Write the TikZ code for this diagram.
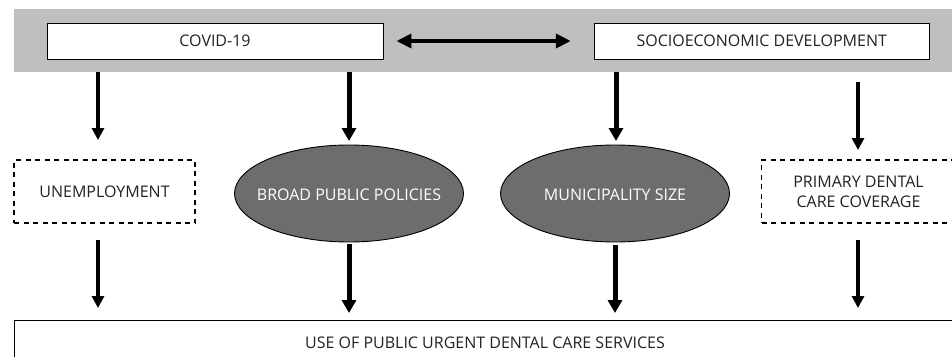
\documentclass[tikz,border=0pt]{standalone}
\usepackage{fontspec}
\setmainfont{Open Sans}
\usetikzlibrary{arrows.meta,shapes.geometric}
\definecolor{bandgray}{HTML}{BFBFBF}
\definecolor{ovalgray}{HTML}{6D6D6D}
\definecolor{inktext}{HTML}{222222}

\begin{document}
\begin{tikzpicture}[x=1pt,y=-1pt,
  lbl/.style={font=\fontsize{16}{20}\selectfont, text=inktext},
  bandbar/.style={fill=bandgray, draw=none, inner sep=0pt},
  topbox/.style={lbl, draw, fill=white, line width=0.9pt, minimum width=336pt, minimum height=36pt, inner sep=0pt},
  dbox/.style={lbl, draw, dash pattern=on 5pt off 4.5pt, line width=1.1pt, align=center, inner sep=0pt},
  oval/.style={ellipse, draw, line width=0.9pt, fill=ovalgray, minimum width=229pt, minimum height=97pt, inner sep=0pt},
  ovaltext/.style={lbl, text=white, inner sep=0pt},
  outbox/.style={lbl, draw, line width=0.9pt, fill=white, inner sep=0pt},
  arrthin/.style={line width=3.4pt, -{Triangle[width=12pt,length=12pt]}},
  arrthick/.style={line width=5pt, -{Triangle[width=14pt,length=13pt]}},
  arrboth/.style={line width=4.5pt, {Triangle[width=14pt,length=15pt]}-{Triangle[width=14pt,length=15pt]}}
]
\clip (0,0) rectangle (952,356);
\fill[white] (0,0) rectangle (952,356);

% grey band behind the two drivers
\node[bandbar, minimum width=946pt, minimum height=63pt] (band) at (487,40.5) {};

% drivers
\node[topbox] (covid) at (215,41) {COVID-19};
\node[topbox, minimum width=335pt] (socio) at (761.7,41) {SOCIOECONOMIC DEVELOPMENT};

% mediators
\node[dbox, minimum width=181pt, minimum height=63pt] (unemp) at (104.5,191.5) {UNEMPLOYMENT};
\node[oval] (policy) at (349,193.5) {};
\node[ovaltext] (policytxt) at ([yshift=-1.5pt]policy.center) {BROAD PUBLIC POLICIES};
\node[oval] (muni) at (615,193.5) {};
\node[ovaltext] (munitxt) at ([yshift=-1pt]muni.center) {MUNICIPALITY SIZE};
\node[dbox, minimum width=194pt, minimum height=63pt] (cover) at (858.5,191.5) {PRIMARY DENTAL\\CARE COVERAGE};

% outcome
\node[outbox, minimum width=942pt, minimum height=46pt] (use) at (485,343) {USE OF PUBLIC URGENT DENTAL CARE SERVICES};

% arrow end points
\coordinate (c1a) at (98,72);   \coordinate (c1b) at (98,140);
\coordinate (c2a) at (349,72);  \coordinate (c2b) at (349,141);
\coordinate (c3a) at (616,72);  \coordinate (c3b) at (616,141);
\coordinate (c4a) at (858,82);  \coordinate (c4b) at (858,150);
\coordinate (d1a) at (98,240);  \coordinate (d1b) at (98,308);
\coordinate (d2a) at (349,244); \coordinate (d2b) at (349,313);
\coordinate (d3a) at (615,245); \coordinate (d3b) at (615,313);
\coordinate (d4a) at (858,240); \coordinate (d4b) at (858,308);

% two-way link between the drivers
\draw[arrboth] ([xshift=13pt]covid.east) -- ([xshift=-23pt]socio.west);

% drivers to mediators
\draw[arrthin]  (c1a) -- (c1b);
\draw[arrthick] (c2a) -- (c2b);
\draw[arrthick] (c3a) -- (c3b);
\draw[arrthin]  (c4a) -- (c4b);

% mediators to outcome
\draw[arrthin]  (d1a) -- (d1b);
\draw[arrthick] (d2a) -- (d2b);
\draw[arrthick] (d3a) -- (d3b);
\draw[arrthin]  (d4a) -- (d4b);
\end{tikzpicture}
\end{document}
